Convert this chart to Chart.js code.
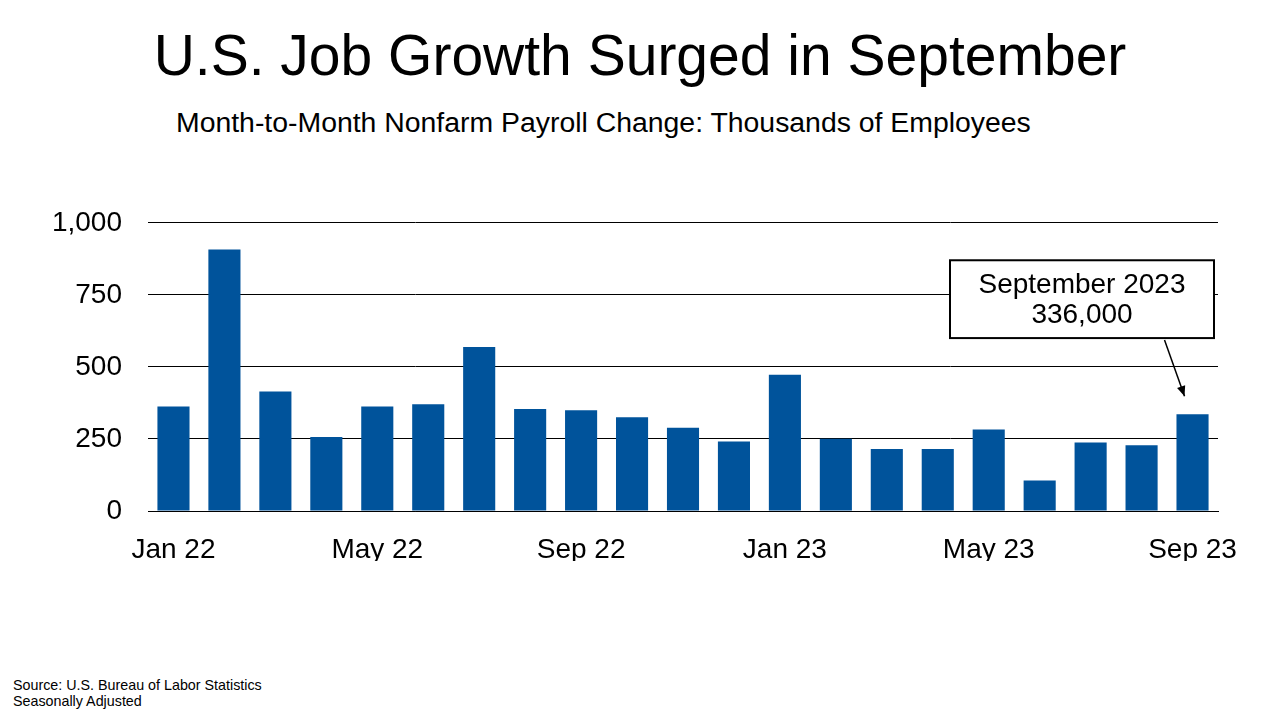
<!DOCTYPE html>
<html><head><meta charset="utf-8">
<script src="https://cdn.jsdelivr.net/npm/chart.js@4/dist/chart.umd.min.js"></script>
<style>
body{margin:0;width:1280px;height:720px;background:#fff;font-family:"Liberation Sans",Arial,sans-serif;position:relative;overflow:hidden}
#t{position:absolute;top:22px;left:0;width:1280px;text-align:center;font-size:57px;color:#000}
#s{position:absolute;top:106px;left:176px;font-size:28.4px;color:#000}
#src{position:absolute;left:13px;top:677px;font-size:14.3px;line-height:16px;color:#000}
#w{position:absolute;left:0;top:180px;width:1280px;height:400px}
</style></head><body>
<div id="t">U.S. Job Growth Surged in September</div>
<div id="s">Month-to-Month Nonfarm Payroll Change: Thousands of Employees</div>
<div id="w"><canvas id="c"></canvas></div>
<div id="src">Source: U.S. Bureau of Labor Statistics<br>Seasonally Adjusted</div>
<script>
const months=["Jan 22","Feb 22","Mar 22","Apr 22","May 22","Jun 22","Jul 22","Aug 22","Sep 22","Oct 22","Nov 22","Dec 22","Jan 23","Feb 23","Mar 23","Apr 23","May 23","Jun 23","Jul 23","Aug 23","Sep 23"];
const payrollChange=[363,907,415,257,363,370,569,354,350,325,289,241,473,251,215,215,283,106,238,228,336];
const yTicks=[0,250,500,750,1000];
const noteLines=["September 2023","336,000"];
const note={
 id:'note',
 afterDraw(ch){
  const c=ch.ctx,x=ch.scales.x,y=ch.scales.y,a=ch.chartArea;
  const bx=950,bw=a.right-4-bx,by=y.getPixelForValue(870),bh=y.getPixelForValue(600)-by;
  c.save();
  c.fillStyle='#fff';c.fillRect(bx,by,bw,bh);
  c.lineWidth=2;c.strokeStyle='#000';c.strokeRect(bx,by,bw,bh);
  c.fillStyle='#000';c.font='28px "Liberation Sans",Arial';c.textAlign='center';c.textBaseline='middle';
  c.fillText(noteLines[0],bx+bw/2,by+bh*0.32);c.fillText(noteLines[1],bx+bw/2,by+bh*0.71);
  const i=months.length-1,ex=x.getPixelForValue(i)-8,ey=y.getPixelForValue(payrollChange[i])-18;
  const sx=ex-20,sy=by+bh+2;
  c.beginPath();c.moveTo(sx,sy);c.lineTo(ex,ey);c.lineWidth=1.5;c.stroke();
  const ang=Math.atan2(ey-sy,ex-sx);
  c.beginPath();c.moveTo(ex,ey);
  c.lineTo(ex-11*Math.cos(ang-0.4),ey-11*Math.sin(ang-0.4));
  c.lineTo(ex-11*Math.cos(ang+0.4),ey-11*Math.sin(ang+0.4));c.closePath();c.fill();
  c.restore();
 }};
new Chart(document.getElementById('c'),{
 type:'bar',
 data:{labels:months,datasets:[{data:payrollChange,backgroundColor:'#00539b',barPercentage:0.63,categoryPercentage:1}]},
 options:{responsive:true,maintainAspectRatio:false,animation:false,
  layout:{padding:{top:20,right:62,bottom:19,left:0}},
  plugins:{legend:{display:false},tooltip:{enabled:false}},
  scales:{
   x:{grid:{display:false},border:{color:'#000',width:1},
      ticks:{color:'#000',font:{size:28,family:'"Liberation Sans",Arial'},autoSkip:false,maxRotation:0,padding:14,
        callback:(v,i)=>i%4===0?months[i]:''},
      afterFit(s){s.height=50;}},
   y:{min:0,max:1000,border:{display:false},
      grid:{color:'#000',lineWidth:1,drawTicks:false},
      afterBuildTicks(s){s.ticks=yTicks.map(v=>({value:v}));},
      ticks:{color:'#000',font:{size:28,family:'"Liberation Sans",Arial'},padding:26,
        callback:v=>v.toLocaleString('en-US')},
      afterFit(s){s.width=148;}}
  }},
 plugins:[note]
});
</script></body></html>
